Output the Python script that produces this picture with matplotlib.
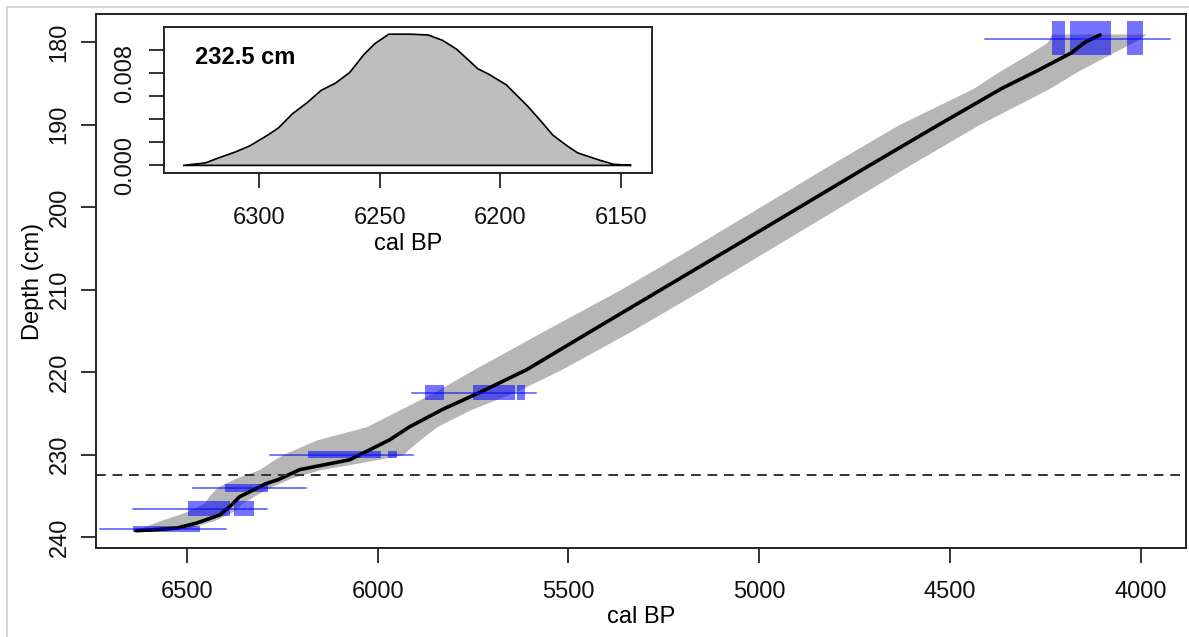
import matplotlib.pyplot as plt
from matplotlib.patches import Rectangle
from matplotlib.lines import Line2D

plt.rcParams['font.family'] = ['Liberation Sans', 'DejaVu Sans']

# age-depth model: mean line
mean_depth = [179.1, 180.0, 181.3, 183.5, 185.6, 190, 195, 200, 205, 210, 215, 219.7,
              222.5, 224.5, 226.6, 228.2, 230.0, 230.6, 231.8, 233.0, 233.5, 235.1,
              236.3, 237.3, 238.3, 238.9, 239.1, 239.2]
mean_age = [4107, 4147, 4183, 4274, 4365, 4530, 4714, 4895, 5076, 5258, 5440, 5610,
            5735, 5830, 5916, 5969, 6047, 6073, 6204, 6260, 6293, 6362,
            6388, 6414, 6476, 6528, 6589, 6633]

# age-depth model: grey envelope
band_depth = [179.0, 180.0, 181.3, 183.5, 185.6, 190, 195, 200, 205, 210, 215, 219.7,
              222.5, 224.5, 226.6, 228.2, 230.0, 231.0, 231.8, 232.8, 233.9, 234.9,
              235.9, 236.9, 237.9, 238.9, 239.3]
band_old = [4235, 4245, 4290, 4370, 4440, 4635, 4820, 5000, 5180, 5365, 5565, 5750,
            5855, 5940, 6030, 6160, 6250, 6285, 6310, 6370, 6420, 6440,
            6455, 6500, 6565, 6623, 6645]
band_young = [3985, 4020, 4075, 4165, 4240, 4425, 4610, 4790, 4970, 5150, 5335, 5520,
              5645, 5755, 5845, 5890, 5935, 6050, 6150, 6225, 6280, 6320,
              6355, 6380, 6425, 6495, 6600]

# dated levels: full calibrated ranges
date_depth = [179.6, 222.55, 230.05, 234.05, 236.55, 239.0]
date_min = [3924, 5584, 5907, 6189, 6289, 6398]
date_max = [4409, 5910, 6283, 6485, 6641, 6728]

# calibrated probability blocks
blk_top = [177.4, 177.4, 177.4, 221.5, 221.5, 221.5, 229.6, 229.6, 233.5, 235.6, 235.6, 238.6]
blk_bot = [181.5, 181.5, 181.5, 223.3, 223.3, 223.3, 230.4, 230.4, 234.5, 237.4, 237.4, 239.4]
blk_old = [4234, 4186, 4037, 5876, 5751, 5634, 6182, 5973, 6400, 6497, 6377, 6641]
blk_young = [4198, 4079, 3995, 5826, 5640, 5614, 5990, 5950, 6287, 6387, 6324, 6466]

slice_depth = 232.5

# inset: age distribution at 232.5 cm
dens_age = [6331.4, 6322.1, 6317.0, 6309.6, 6303.7, 6296.3, 6291.9, 6286.0, 6280.1, 6274.2,
            6268.3, 6262.4, 6256.5, 6252.1, 6246.2, 6237.3, 6229.9, 6224.0, 6218.1, 6209.3,
            6204.8, 6197.5, 6193.8, 6188.6, 6182.7, 6178.3, 6172.4, 6168.0, 6159.1, 6153.2,
            6145.8]
dens_p = [0.0, 0.00022, 0.00063, 0.00118, 0.00171, 0.00264, 0.00326, 0.00451, 0.00544, 0.00653,
          0.00715, 0.00808, 0.00964, 0.01057, 0.01141, 0.01141, 0.01134, 0.01088, 0.0101, 0.0084,
          0.00793, 0.0070, 0.00622, 0.00513, 0.00373, 0.00264, 0.00171, 0.00109, 0.00047, 0.0001,
          0.0]

x_ticks = [6500, 6000, 5500, 5000, 4500, 4000]
y_ticks = [180, 190, 200, 210, 220, 230, 240]
ix_ticks = [6300, 6250, 6200, 6150]
iy_ticks = [0.000, 0.002, 0.004, 0.006, 0.008, 0.010]
iy_labels = ['0.000', '', '', '', '0.008', '']

FS = 17

fig = plt.figure(figsize=(11.89, 6.37), dpi=100)

# light screenshot frame
fig.add_artist(Line2D([7 / 1189, 7 / 1189], [0, 1 - 7 / 637], color='#d6d6d6', lw=1.5))
fig.add_artist(Line2D([7 / 1189, 1], [1 - 7 / 637, 1 - 7 / 637], color='#d6d6d6', lw=1.5))

ax = fig.add_axes([96 / 1189, 1 - 548 / 637, 1090 / 1189, 534 / 637])
ax.fill_betweenx(band_depth, band_old, band_young, color='#b6b6b6', lw=0)
ax.plot(mean_age, mean_depth, color='black', lw=2.6, solid_capstyle='round')
for d, a0, a1 in zip(date_depth, date_min, date_max):
    ax.plot([a0, a1], [d, d], color=(0, 0, 1, 0.68), lw=1.1)
for t, b, o, y in zip(blk_top, blk_bot, blk_old, blk_young):
    ax.add_patch(Rectangle((y, t), o - y, b - t, facecolor=(0, 0, 1, 0.55), edgecolor='none'))
ax.axhline(slice_depth, color='#333333', lw=1.4, ls=(0, (5, 3.5)))

ax.set_xlim(6738, 3882)
ax.set_ylim(241.3, 176.57)
ax.set_xticks(x_ticks)
ax.set_yticks(y_ticks)
ax.tick_params(direction='out', length=10.8, width=1.2, labelsize=FS, colors='#111111')
ax.tick_params(axis='x', pad=13)
ax.tick_params(axis='y', pad=7.5, labelrotation=90)
for lab in ax.get_yticklabels():
    lab.set_va('center')
for s in ax.spines.values():
    s.set_linewidth(1.4)
    s.set_color('#222222')
ax.set_xlabel('cal BP', fontsize=FS, labelpad=2)
ax.set_ylabel('Depth (cm)', fontsize=FS, labelpad=3.6)

# inset
ax2 = fig.add_axes([164 / 1189, 1 - 172.5 / 637, 488 / 1189, 145.7 / 637])
ax2.fill(dens_age, dens_p, facecolor='#bebebe', edgecolor='black', lw=1.2)
ax2.set_xlim(6339.3, 6137.2)
ax2.set_ylim(-0.000617, 0.012052)
ax2.set_xticks(ix_ticks)
ax2.set_yticks(iy_ticks)
ax2.set_yticklabels(iy_labels)
ax2.tick_params(direction='out', length=10.8, width=1.2, labelsize=FS, colors='#111111')
ax2.tick_params(axis='x', pad=14)
ax2.tick_params(axis='y', pad=9, labelrotation=90)
for lab in ax2.get_yticklabels():
    lab.set_va('center')
for s in ax2.spines.values():
    s.set_linewidth(1.4)
    s.set_color('#222222')
ax2.set_xlabel('cal BP', fontsize=FS, labelpad=3)
ax2.text(0.0635, 0.786, '232.5 cm', transform=ax2.transAxes, fontsize=FS,
         fontweight='bold', va='center', ha='left')

fig.savefig('out.png', dpi=100)
